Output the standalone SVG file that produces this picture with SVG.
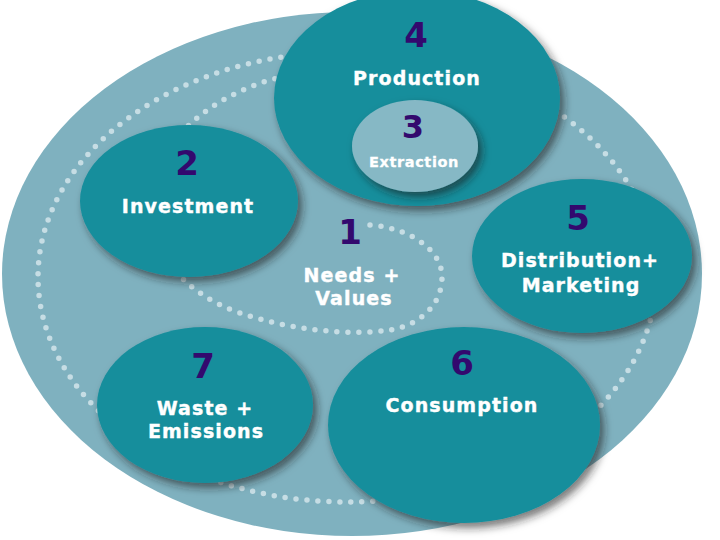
<svg xmlns="http://www.w3.org/2000/svg" width="720" height="540" viewBox="0 0 720 540">
<defs>
<filter id="sh" x="-20%" y="-20%" width="140%" height="140%">
<feDropShadow dx="4" dy="5" stdDeviation="4" flood-color="#222" flood-opacity="0.6"/>
</filter>
<style>
.bg{fill:#7fb1bf}
.node{fill:#178e9c;filter:url(#sh)}
.inner{fill:#86b8c5;filter:url(#sh)}
.dots{fill:none;stroke:#c6dde4;stroke-width:5.5;stroke-linecap:round;stroke-dasharray:0 11}
.num{font-family:"DejaVu Sans",Verdana,sans-serif;font-weight:bold;font-size:34px;fill:#33096e;text-anchor:middle}
.lbl{font-family:"DejaVu Sans",Verdana,sans-serif;font-weight:bold;font-size:19px;fill:#ffffff;stroke:#ffffff;stroke-width:0.4;text-anchor:middle;letter-spacing:1.1px}
.sm{font-size:14.5px;letter-spacing:0.6px;stroke-width:0.3}
</style>
</defs>
<rect width="720" height="540" fill="#ffffff"/>
<ellipse class="bg" cx="352" cy="274" rx="350" ry="262"/>
<g id="connectors">
<ellipse class="dots" cx="347" cy="277" rx="309" ry="225"/>
<path class="dots" d="M370,225 C410,228 442,250 442,277 C442,305 420,325 390,330 C350,336 290,330 240,313 C180,293 140,240 150,190 C160,140 210,98 270,80 C300,72 320,66 340,62"/>
</g>
<g id="n4">
<ellipse class="node" cx="417" cy="98" rx="143" ry="108"/>
<text class="num" x="416" y="47">4</text>
<text class="lbl" x="417" y="85">Production</text>
</g>
<g id="n3">
<ellipse class="inner" cx="415" cy="146" rx="63" ry="46"/>
<text class="num" x="413" y="138" style="font-size:32px">3</text>
<text class="lbl sm" x="414" y="167">Extraction</text>
</g>
<g id="n2">
<ellipse class="node" cx="189" cy="201" rx="109" ry="76"/>
<text class="num" x="187" y="175">2</text>
<text class="lbl" x="188" y="213">Investment</text>
</g>
<g id="n1">
<text class="num" x="350" y="244">1</text>
<text class="lbl" x="352" y="282">Needs +</text>
<text class="lbl" x="354" y="305">Values</text>
</g>
<g id="n5">
<ellipse class="node" cx="582" cy="256" rx="110" ry="77"/>
<text class="num" x="578" y="230">5</text>
<text class="lbl" x="580" y="267">Distribution+</text>
<text class="lbl" x="581" y="292">Marketing</text>
</g>
<g id="n7">
<ellipse class="node" cx="205" cy="405" rx="108" ry="78"/>
<text class="num" x="203" y="378">7</text>
<text class="lbl" x="205" y="415">Waste +</text>
<text class="lbl" x="206" y="438">Emissions</text>
</g>
<g id="n6">
<ellipse class="node" cx="464" cy="425" rx="136" ry="98"/>
<text class="num" x="462" y="375">6</text>
<text class="lbl" x="462" y="412">Consumption</text>
</g>
</svg>
